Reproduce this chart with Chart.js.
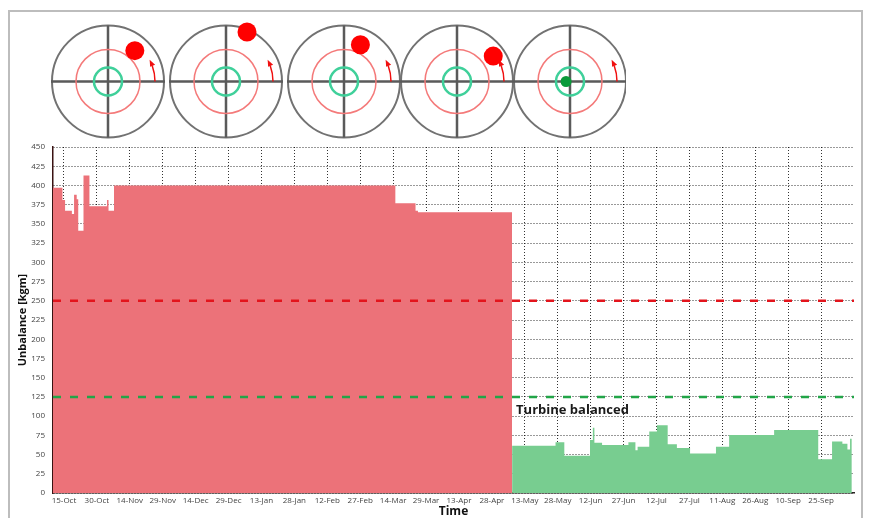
<!DOCTYPE html>
<html>
<head>
<meta charset="utf-8">
<script src="https://cdn.jsdelivr.net/npm/chart.js@4.4.1/dist/chart.umd.min.js"></script>
<style>
body { margin: 0; background: #fff; }
#frame { position: absolute; left: 8px; top: 10px; width: 855px; height: 520px; border: 2px solid #bdbdbd; border-bottom: none; box-sizing: border-box; }
#myChart { position: absolute; left: 0; top: 0; }
</style>
</head>
<body>
<div id="frame"></div>
<canvas id="myChart" width="870" height="518"></canvas>
<script>
// days counted from 10-Oct (start of the axis)
const axisDays = 365;
const tickLabels = ['15-Oct', '30-Oct', '14-Nov', '29-Nov', '14-Dec', '29-Dec', '13-Jan', '28-Jan',
    '12-Feb', '27-Feb', '14-Mar', '29-Mar', '13-Apr', '28-Apr', '13-May', '28-May',
    '12-Jun', '27-Jun', '12-Jul', '27-Jul', '11-Aug', '26-Aug', '10-Sep', '25-Sep'];
const firstTickDay = 5;
const tickStep = 15;

const redDays = [0, 4.3, 5.5, 8.6, 9.6, 10.8, 11.5, 13.9, 16.6, 24.6, 25.3, 27.8, 156, 165.2, 166.3, 209.2];
const redValues = [397, 381, 367, 363, 388, 382, 341, 413, 373, 381, 367, 400, 377, 367, 365, 365];

const greenDays = [209.2, 229, 233, 244.7, 246, 246.7, 250.2, 262.2, 265.4, 266.4, 271.7, 275.2, 280.1,
    284.3, 290.3, 302.1, 308.1, 328.6, 348.7, 355, 359.7, 362, 363.2, 364];
const greenValues = [61.5, 66, 48.5, 69, 85, 65.5, 62.5, 66, 55.5, 60, 80, 88, 63.5,
    58.5, 51.5, 60, 75.5, 82, 44, 67, 64, 56.5, 70.5, 70.5];

const alarmLimit = 250;
const balancedLimit = 125;
const balancedLabel = 'Turbine balanced';

// unbalance vector shown in the polar pictures above the chart
const iconAngles = [49, 67, 66, 35, 180];
const iconOffsets = [0.73, 0.96, 0.72, 0.79, 0.07];
const iconDotColors = ['#ff0000', '#ff0000', '#ff0000', '#ff0000', '#0a9a3a'];

const myChart = document.getElementById('myChart');
const tickFont = { family: 'Open Sans', size: 8 };

function toPoints(days, values) {
    return days.map((d, i) => ({ x: d, y: values[i] }));
}

const iconsPlugin = {
    id: 'icons',
    beforeDraw(chart) {
        const ctx = chart.ctx;
        const centersX = [108, 226, 344, 457, 570];
        const cy = 81.5;
        const R = 56;
        ctx.save();
        ctx.beginPath();
        ctx.rect(0, 0, 626, 145);
        ctx.clip();
        centersX.forEach((cx, i) => {
            // outer circle
            ctx.strokeStyle = '#727272';
            ctx.lineWidth = 2;
            ctx.beginPath();
            ctx.arc(cx, cy, R, 0, Math.PI * 2);
            ctx.stroke();
            // cross
            ctx.strokeStyle = '#5a5a5a';
            ctx.lineWidth = 2.5;
            ctx.beginPath();
            ctx.moveTo(cx - R - 1, cy);
            ctx.lineTo(cx + R + 1, cy);
            ctx.moveTo(cx, cy - R);
            ctx.lineTo(cx, cy + R);
            ctx.stroke();
            // limit rings
            ctx.strokeStyle = '#f47a7a';
            ctx.lineWidth = 1.5;
            ctx.beginPath();
            ctx.arc(cx, cy, 32, 0, Math.PI * 2);
            ctx.stroke();
            ctx.strokeStyle = '#3fd09a';
            ctx.lineWidth = 2.5;
            ctx.beginPath();
            ctx.arc(cx, cy, 14, 0, Math.PI * 2);
            ctx.stroke();
            // rotation arrow
            ctx.strokeStyle = '#f01010';
            ctx.fillStyle = '#f01010';
            ctx.lineWidth = 1.5;
            const ar = 47;
            const a1 = -20 * Math.PI / 180;
            ctx.beginPath();
            ctx.arc(cx, cy, ar, 0, a1, true);
            ctx.stroke();
            const hx = cx + ar * Math.cos(a1 - 0.06);
            const hy = cy + ar * Math.sin(a1 - 0.06);
            ctx.beginPath();
            ctx.moveTo(hx - 1.5, hy - 3);
            ctx.lineTo(hx + 4, hy + 2);
            ctx.lineTo(hx - 1, hy + 4);
            ctx.closePath();
            ctx.fill();
            // unbalance dot
            const a = iconAngles[i] * Math.PI / 180;
            const dx = cx + iconOffsets[i] * R * Math.cos(a);
            const dy = cy - iconOffsets[i] * R * Math.sin(a);
            ctx.fillStyle = iconDotColors[i];
            ctx.beginPath();
            ctx.arc(dx, dy, i === 4 ? 5.5 : 9.5, 0, Math.PI * 2);
            ctx.fill();
        });
        ctx.restore();
    }
};

const labelPlugin = {
    id: 'balancedLabel',
    afterDraw(chart) {
        const ctx = chart.ctx;
        const xs = chart.scales.x;
        const ys = chart.scales.y;
        ctx.save();
        ctx.font = 'bold 13px "Open Sans"';
        ctx.fillStyle = '#1a1a1a';
        ctx.textBaseline = 'middle';
        ctx.fillText(balancedLabel, xs.getPixelForValue(redDays[redDays.length - 1]) + 4, ys.getPixelForValue(107));
        ctx.restore();
    }
};

const newChart = new Chart(myChart, {
    type: 'line',
    data: {
        datasets: [
            {
                data: [{ x: 0, y: alarmLimit }, { x: axisDays, y: alarmLimit }],
                borderColor: '#e3141c',
                borderWidth: 2.5,
                borderDash: [8, 9],
                pointRadius: 0,
                fill: false
            },
            {
                data: [{ x: 0, y: balancedLimit }, { x: axisDays, y: balancedLimit }],
                borderColor: '#22a548',
                borderWidth: 2.5,
                borderDash: [8, 9],
                pointRadius: 0,
                fill: false
            },
            {
                data: toPoints(redDays, redValues),
                stepped: 'before',
                borderColor: 'rgba(0,0,0,0)',
                borderWidth: 1,
                backgroundColor: '#ec7279',
                pointRadius: 0,
                fill: 'origin'
            },
            {
                data: toPoints(greenDays, greenValues),
                stepped: 'before',
                borderColor: 'rgba(0,0,0,0)',
                borderWidth: 1,
                backgroundColor: '#78cd90',
                pointRadius: 0,
                fill: 'origin'
            }
        ]
    },
    options: {
        responsive: false,
        animation: false,
        layout: { padding: { left: 0, right: 16, top: 147, bottom: 0 } },
        plugins: { legend: { display: false }, tooltip: { enabled: false } },
        scales: {
            x: {
                type: 'linear',
                min: 0,
                max: axisDays,
                z: 1,
                afterBuildTicks: (scale) => {
                    scale.ticks = tickLabels.map((t, i) => ({ value: firstTickDay + tickStep * i }));
                },
                afterFit: (scale) => { scale.height = 25; },
                ticks: {
                    autoSkip: false,
                    maxRotation: 0,
                    padding: 3,
                    font: tickFont,
                    color: '#444',
                    callback: (value, index) => tickLabels[index]
                },
                grid: { color: 'rgba(0,0,0,0.8)', lineWidth: 1, drawTicks: false },
                border: { color: '#2a2222', width: 1.5, dash: [1, 2] },
                title: {
                    display: true,
                    text: 'Time',
                    color: '#111',
                    padding: 0,
                    font: { family: 'Open Sans', size: 12, weight: 'bold', lineHeight: 1 }
                }
            },
            y: {
                min: 0,
                max: 450,
                z: 1,
                afterFit: (scale) => { scale.width = 53; },
                ticks: { stepSize: 25, padding: 8, font: tickFont, color: '#444' },
                grid: { color: 'rgba(0,0,0,0.8)', lineWidth: 1, drawTicks: false },
                border: { color: '#3a1212', width: 1.5, dash: [1, 2] },
                title: {
                    display: true,
                    text: 'Unbalance [kgm]',
                    color: '#111',
                    padding: { top: 16, bottom: 0 },
                    font: { family: 'Open Sans', size: 11, weight: 'bold' }
                }
            }
        }
    },
    plugins: [iconsPlugin, labelPlugin]
});
</script>
</body>
</html>
